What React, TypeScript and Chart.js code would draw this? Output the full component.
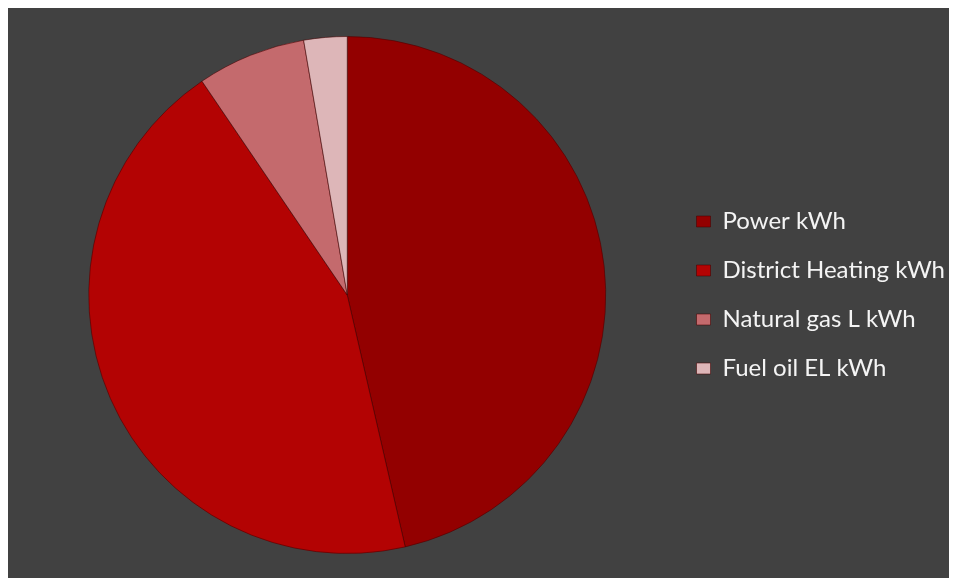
import React, { useEffect, useRef } from "react";
import { Chart, registerables } from "chart.js";

Chart.register(...registerables);

const categories: string[] = ["Power kWh", "District Heating kWh", "Natural gas L kWh", "Fuel oil EL kWh"];
const shares: number[] = [46.4, 44.1, 6.8, 2.7];
const sliceColors: string[] = ["#930000", "#B30303", "#C46A6D", "#DDB6B8"];

export default function App() {
  const ref = useRef<HTMLCanvasElement | null>(null);
  useEffect(() => {
    if (!ref.current) return;
    const chart = new Chart(ref.current, {
      type: "pie",
      data: {
        labels: categories,
        datasets: [
          {
            data: shares,
            backgroundColor: sliceColors,
            borderColor: "rgba(70,0,0,0.55)",
            borderWidth: 1,
          },
        ],
      },
      options: {
        responsive: false,
        animation: false,
        layout: { padding: { left: 15, right: 2, top: 28, bottom: 24 } },
        plugins: {
          tooltip: { enabled: false },
          legend: {
            position: "right",
            align: "center",
            labels: {
              color: "#F4F4F4",
              boxWidth: 14,
              boxHeight: 11,
              padding: 25,
              font: { family: "Lato, 'Open Sans', sans-serif", size: 24 },
            },
          },
        },
      },
    });
    return () => chart.destroy();
  }, []);
  return (
    <canvas
      ref={ref}
      width={949}
      height={570}
      style={{ display: "block", background: "#414141", width: 949, height: 570 }}
    />
  );
}
